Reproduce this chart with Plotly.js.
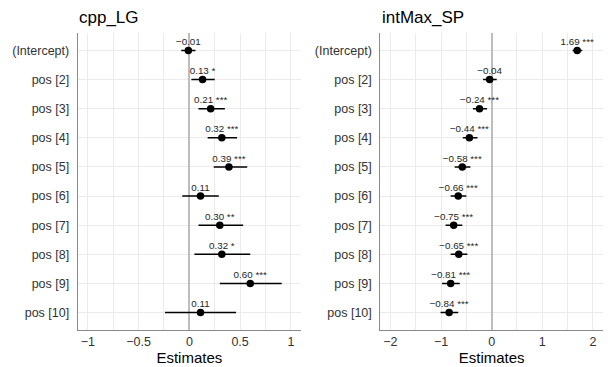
<!DOCTYPE html>
<html>
<head>
<meta charset="utf-8">
<script src="https://cdn.plot.ly/plotly-3.0.1.min.js"></script>
<style>html,body{margin:0;padding:0;background:#fff;}#chart{width:610px;height:367px;}</style>
</head>
<body>
<div id="chart"></div>
<script>
const terms = ['(Intercept)','pos [2]','pos [3]','pos [4]','pos [5]','pos [6]','pos [7]','pos [8]','pos [9]','pos [10]'];

const cppEst = [-0.01, 0.13, 0.21, 0.32, 0.39, 0.11, 0.30, 0.32, 0.60, 0.11];
const cppLow = [-0.08, 0.02, 0.09, 0.18, 0.24, -0.07, 0.09, 0.05, 0.30, -0.24];
const cppHigh = [0.06, 0.25, 0.35, 0.47, 0.57, 0.29, 0.53, 0.60, 0.91, 0.46];
const cppStars = ['', '*', '***', '***', '***', '', '**', '*', '***', ''];

const intEst = [1.69, -0.04, -0.24, -0.44, -0.58, -0.66, -0.75, -0.65, -0.81, -0.84];
const intLow = [1.60, -0.17, -0.37, -0.57, -0.73, -0.81, -0.91, -0.81, -0.98, -1.01];
const intHigh = [1.79, 0.10, -0.09, -0.28, -0.42, -0.50, -0.58, -0.48, -0.63, -0.66];
const intStars = ['***', '', '***', '***', '***', '***', '***', '***', '***', '***'];

const panelTitles = ['cpp_LG', 'intMax_SP'];
const xTitle = 'Estimates';

const FONT = 'Liberation Sans, Arial, Helvetica, sans-serif';

function fmt(v){
  const s = Math.abs(v).toFixed(2);
  return (v < 0 ? '\u2212' : '') + s;
}
function labelsFor(est, stars){
  return est.map((v,i)=> fmt(v) + (stars[i] ? ' ' + stars[i] : ''));
}

function pointTrace(est, low, high, xa, ya){
  return {
    type: 'scatter',
    mode: 'markers',
    x: est,
    y: terms,
    xaxis: xa, yaxis: ya,
    marker: {color: '#000000', size: 7.5},
    error_x: {
      type: 'data',
      symmetric: false,
      array: high.map((h,i)=> h - est[i]),
      arrayminus: low.map((l,i)=> est[i] - l),
      width: 0,
      thickness: 1.5,
      color: '#000000'
    },
    hoverinfo: 'skip',
    cliponaxis: false,
    showlegend: false
  };
}
function textTrace(est, stars, xa, ya){
  return {
    type: 'scatter',
    mode: 'markers+text',
    x: est,
    y: terms,
    xaxis: xa, yaxis: ya,
    marker: {size: 3, opacity: 0, color: '#ffffff'},
    text: labelsFor(est, stars),
    textposition: 'top center',
    textfont: {family: FONT, size: 9.8, color: '#262626'},
    hoverinfo: 'skip',
    cliponaxis: false,
    showlegend: false
  };
}

const yCommon = {
  type: 'category',
  categoryorder: 'array',
  categoryarray: terms,
  range: [9.6, -0.6],
  showgrid: true,
  gridcolor: '#ebebeb',
  gridwidth: 1,
  showline: true,
  linecolor: '#8a8a8a',
  linewidth: 1,
  ticks: '',
  ticklabelstandoff: 5,
  zeroline: false,
  tickfont: {family: FONT, size: 12.5, color: '#333333'}
};

function xAxis(domain, range, dtick, minorDtick){
  return {
    domain: domain,
    range: range,
    dtick: dtick,
    tick0: 0,
    showgrid: true,
    gridcolor: '#ebebeb',
    gridwidth: 1,
    minor: {dtick: minorDtick, tick0: 0, showgrid: true, gridcolor: '#ebebeb', gridwidth: 1},
    zeroline: true,
    zerolinecolor: '#bdbdbd',
    zerolinewidth: 2,
    showline: true,
    linecolor: '#8a8a8a',
    linewidth: 1,
    ticks: '',
    tickfont: {family: FONT, size: 12.5, color: '#333333'},
    title: {text: xTitle, font: {family: FONT, size: 15, color: '#000000'}, standoff: 4}
  };
}

const layout = {
  width: 610, height: 367,
  margin: {l: 0, r: 0, t: 0, b: 0},
  paper_bgcolor: '#ffffff',
  plot_bgcolor: '#ffffff',
  font: {family: FONT},
  xaxis: Object.assign(xAxis([77.7/610, 301/610], [-1.1, 1.1], 0.5, 0.25), {anchor: 'y'}),
  yaxis: Object.assign({domain: [1 - 330/367, 1 - 33/367], anchor: 'x'}, yCommon),
  xaxis2: Object.assign(xAxis([380.3/610, 603/610], [-2.2, 2.2], 1, 0.5), {anchor: 'y2'}),
  yaxis2: Object.assign({domain: [1 - 330/367, 1 - 33/367], anchor: 'x2'}, yCommon),
  annotations: [
    {text: panelTitles[0], xref: 'paper', yref: 'paper', x: 77/610, y: 1 - 17/367, xanchor: 'left', yanchor: 'middle', showarrow: false, font: {family: FONT, size: 17, color: '#000000'}},
    {text: panelTitles[1], xref: 'paper', yref: 'paper', x: 379.5/610, y: 1 - 17/367, xanchor: 'left', yanchor: 'middle', showarrow: false, font: {family: FONT, size: 17, color: '#000000'}}
  ]
};

const data = [
  pointTrace(cppEst, cppLow, cppHigh, 'x', 'y'),
  pointTrace(intEst, intLow, intHigh, 'x2', 'y2'),
  textTrace(cppEst, cppStars, 'x', 'y'),
  textTrace(intEst, intStars, 'x2', 'y2')
];

Plotly.newPlot('chart', data, layout, {displayModeBar: false, staticPlot: true});
</script>
</body>
</html>
